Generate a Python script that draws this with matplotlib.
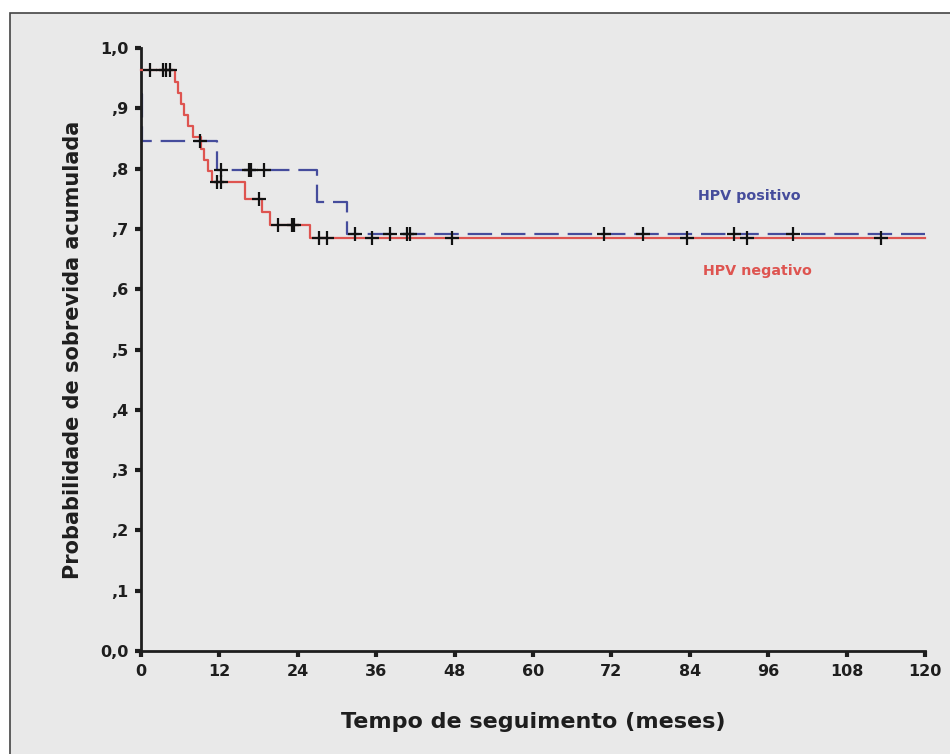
import matplotlib
matplotlib.use("Agg")
import matplotlib.pyplot as plt

# ---- data ----
neg_times = [0, 5.2, 5.6, 6.1, 6.6, 7.2, 8.0, 9.2, 9.7, 10.2, 10.8, 15.9, 18.5, 19.8, 25.9, 120]
neg_surv = [0.963, 0.944, 0.926, 0.907, 0.889, 0.870, 0.852, 0.833, 0.815, 0.796, 0.778,
            0.750, 0.728, 0.706, 0.685, 0.685]
neg_cens_t = [1.4, 3.4, 3.9, 4.4, 11.7, 12.3, 18.0, 21.0, 23.1, 23.4, 27.2, 28.4, 35.3, 47.6,
              83.6, 92.8, 113.2]

pos_times = [0, 0.2, 11.7, 27.0, 31.5, 120]
pos_surv = [0.923, 0.846, 0.798, 0.745, 0.692, 0.692]
pos_cens_t = [9.1, 12.2, 16.5, 16.9, 18.8, 32.8, 38.1, 40.7, 41.2, 70.9, 76.8, 90.7, 99.8]

x_ticks = [0, 12, 24, 36, 48, 60, 72, 84, 96, 108, 120]
y_ticks = [0.0, 0.1, 0.2, 0.3, 0.4, 0.5, 0.6, 0.7, 0.8, 0.9, 1.0]
y_tick_labels = ["0,0", ",1", ",2", ",3", ",4", ",5", ",6", ",7", ",8", ",9", "1,0"]

RED = "#de5450"
BLUE = "#454c9c"
BG = "#e9e9e9"
INK = "#1e1e1e"


def surv_at(times, surv, t):
    val = surv[0]
    for ti, si in zip(times, surv):
        if ti <= t:
            val = si
    return val


fig = plt.figure(figsize=(9.5, 7.54), dpi=100, facecolor="white")
# background panel with border (top/left visible)
bg = plt.Rectangle((10 / 950, -0.1), 1.2, 1 - 13 / 754 + 0.1, transform=fig.transFigure,
                   facecolor=BG, edgecolor="#444444", linewidth=1.2, zorder=-5)
fig.add_artist(bg)

ax = fig.add_axes([141 / 950, 103 / 754, 784 / 950, 603 / 754])
ax.set_zorder(5)
ax.set_facecolor("none")
ax.set_xlim(0, 120)
ax.set_ylim(0, 1.0)

ax.step(neg_times, neg_surv, where="post", color=RED, lw=1.6, zorder=3, clip_on=False)
ax.step(pos_times, pos_surv, where="post", color=BLUE, lw=1.6, zorder=2,
        linestyle=(0, (11, 4)), clip_on=False)

ax.plot(neg_cens_t, [surv_at(neg_times, neg_surv, t) for t in neg_cens_t], linestyle="none",
        marker="+", markersize=10, mew=1.6, color="#111111", zorder=4, clip_on=False)
ax.plot(pos_cens_t, [surv_at(pos_times, pos_surv, t) for t in pos_cens_t], linestyle="none",
        marker="+", markersize=10, mew=1.6, color="#111111", zorder=4, clip_on=False)

for side in ["top", "right"]:
    ax.spines[side].set_visible(False)
for side in ["left", "bottom"]:
    ax.spines[side].set_linewidth(2)
    ax.spines[side].set_color(INK)

ax.set_xticks(x_ticks)
ax.set_xticklabels([str(v) for v in x_ticks])
ax.set_yticks(y_ticks)
ax.set_yticklabels(y_tick_labels)
ax.tick_params(axis="both", direction="out", length=4, width=3, color=INK,
               labelsize=11.5, pad=5)
for lab in ax.get_xticklabels() + ax.get_yticklabels():
    lab.set_fontweight("bold")
    lab.set_color(INK)

ax.set_xlabel("Tempo de seguimento (meses)", fontsize=16, fontweight="bold",
              color=INK, labelpad=24)
ax.set_ylabel("Probabilidade de sobrevida acumulada", fontsize=15, fontweight="bold",
              color=INK, labelpad=12)

ax.text(85.3, 0.755, "HPV positivo", color=BLUE, fontsize=10.3, fontweight="bold",
        ha="left", va="center")
ax.text(86.0, 0.630, "HPV negativo", color=RED, fontsize=10.3, fontweight="bold",
        ha="left", va="center")

fig.savefig("out.png", dpi=100, facecolor="white")
